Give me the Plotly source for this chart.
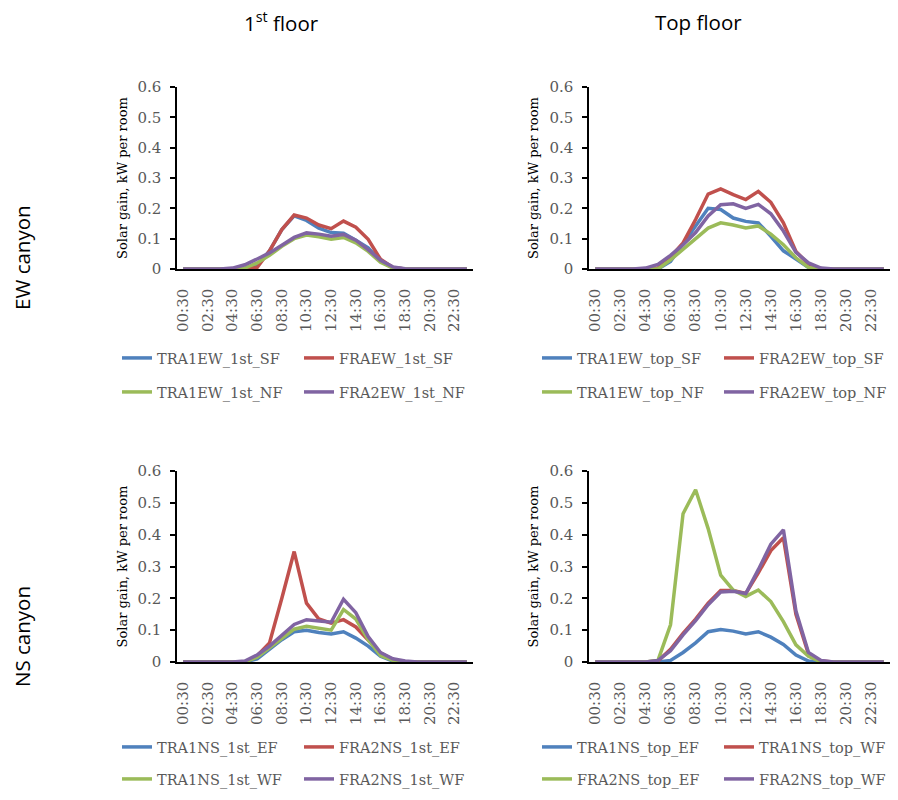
import plotly.graph_objects as go

hours = ["00:30", "01:30", "02:30", "03:30", "04:30", "05:30", "06:30", "07:30",
         "08:30", "09:30", "10:30", "11:30", "12:30", "13:30", "14:30", "15:30",
         "16:30", "17:30", "18:30", "19:30", "20:30", "21:30", "22:30", "23:30"]
tick_labels = ["00:30", "02:30", "04:30", "06:30", "08:30", "10:30",
               "12:30", "14:30", "16:30", "18:30", "20:30", "22:30"]

# EW canyon, 1st floor
ew1_names = ["TRA1EW_1st_SF", "FRAEW_1st_SF", "TRA1EW_1st_NF", "FRA2EW_1st_NF"]
ew1_a = [0, 0, 0, 0, 0, 0, 0.01, 0.06, 0.13, 0.175, 0.16, 0.135, 0.12, 0.118, 0.095, 0.07, 0.027, 0.004, 0, 0, 0, 0, 0, 0]
ew1_b = [0, 0, 0, 0, 0, 0, 0.005, 0.06, 0.13, 0.178, 0.168, 0.145, 0.133, 0.158, 0.138, 0.098, 0.032, 0.005, 0, 0, 0, 0, 0, 0]
ew1_c = [0, 0, 0, 0, 0, 0.003, 0.02, 0.045, 0.075, 0.1, 0.112, 0.106, 0.098, 0.104, 0.086, 0.058, 0.022, 0.003, 0, 0, 0, 0, 0, 0]
ew1_d = [0, 0, 0, 0, 0.003, 0.014, 0.033, 0.053, 0.078, 0.104, 0.119, 0.115, 0.108, 0.114, 0.095, 0.064, 0.029, 0.007, 0.001, 0, 0, 0, 0, 0]

# EW canyon, top floor
ewt_names = ["TRA1EW_top_SF", "FRA2EW_top_SF", "TRA1EW_top_NF", "FRA2EW_top_NF"]
ewt_a = [0, 0, 0, 0, 0, 0, 0.025, 0.085, 0.14, 0.2, 0.196, 0.168, 0.157, 0.152, 0.108, 0.06, 0.033, 0.005, 0, 0, 0, 0, 0, 0]
ewt_b = [0, 0, 0, 0, 0, 0.003, 0.04, 0.086, 0.163, 0.247, 0.264, 0.245, 0.229, 0.256, 0.22, 0.152, 0.058, 0.016, 0, 0, 0, 0, 0, 0]
ewt_c = [0, 0, 0, 0, 0, 0, 0.03, 0.065, 0.1, 0.135, 0.152, 0.145, 0.135, 0.142, 0.115, 0.08, 0.037, 0.005, 0, 0, 0, 0, 0, 0]
ewt_d = [0, 0, 0, 0, 0.003, 0.015, 0.045, 0.08, 0.12, 0.175, 0.212, 0.215, 0.2, 0.213, 0.182, 0.125, 0.055, 0.02, 0.003, 0, 0, 0, 0, 0]

# NS canyon, 1st floor
ns1_names = ["TRA1NS_1st_EF", "FRA2NS_1st_EF", "TRA1NS_1st_WF", "FRA2NS_1st_WF"]
ns1_a = [0, 0, 0, 0, 0, 0, 0.01, 0.04, 0.07, 0.095, 0.1, 0.093, 0.088, 0.095, 0.075, 0.05, 0.018, 0.003, 0, 0, 0, 0, 0, 0]
ns1_b = [0, 0, 0, 0, 0, 0, 0.02, 0.06, 0.2, 0.347, 0.185, 0.135, 0.122, 0.133, 0.11, 0.07, 0.028, 0.008, 0, 0, 0, 0, 0, 0]
ns1_c = [0, 0, 0, 0, 0, 0, 0.015, 0.045, 0.075, 0.103, 0.112, 0.105, 0.1, 0.165, 0.135, 0.07, 0.02, 0.005, 0, 0, 0, 0, 0, 0]
ns1_d = [0, 0, 0, 0, 0, 0.003, 0.022, 0.05, 0.085, 0.118, 0.133, 0.13, 0.125, 0.197, 0.155, 0.08, 0.03, 0.01, 0.003, 0, 0, 0, 0, 0]

# NS canyon, top floor
nst_names = ["TRA1NS_top_EF", "TRA1NS_top_WF", "FRA2NS_top_EF", "FRA2NS_top_WF"]
nst_a = [0, 0, 0, 0, 0, 0, 0.005, 0.03, 0.06, 0.095, 0.102, 0.097, 0.088, 0.095, 0.078, 0.055, 0.022, 0.003, 0, 0, 0, 0, 0, 0]
nst_b = [0, 0, 0, 0, 0, 0.003, 0.04, 0.09, 0.135, 0.185, 0.225, 0.225, 0.215, 0.28, 0.35, 0.39, 0.15, 0.025, 0.003, 0, 0, 0, 0, 0]
nst_c = [0, 0, 0, 0, 0, 0.005, 0.117, 0.466, 0.541, 0.419, 0.273, 0.226, 0.206, 0.226, 0.19, 0.127, 0.054, 0.018, 0, 0, 0, 0, 0, 0]
nst_d = [0, 0, 0, 0, 0, 0.005, 0.035, 0.085, 0.13, 0.18, 0.22, 0.222, 0.215, 0.29, 0.37, 0.415, 0.16, 0.03, 0.005, 0, 0, 0, 0, 0]

colors = ["#4F81BD", "#C0504D", "#9BBB59", "#8064A2"]

# figure sized so that it plus the page's 8px body margin fits the 898x800 window
OFF = 8
W, H = 898 - 2 * OFF, 800 - 2 * OFF
def px(x):
    return min(1.0, (x - OFF) / W)
def py(y):
    return 1 - (y - OFF) / H

SERIF = "DejaVu Serif"
SANS = "Open Sans"
GRAY = "#595959"

panels = [
    # names, series, axis suffix, x-range px, y-range px, legend base index, legend x px, legend rows y px, ytitle x px
    (ew1_names, [ew1_a, ew1_b, ew1_c, ew1_d], "", (177, 473), (87, 269), 1, 117, (358, 392), 122),
    (ewt_names, [ewt_a, ewt_b, ewt_c, ewt_d], "2", (589, 895), (87, 269), 3, 537, (358, 392), 533),
    (ns1_names, [ns1_a, ns1_b, ns1_c, ns1_d], "3", (177, 473), (471, 662), 5, 117, (747, 779), 122),
    (nst_names, [nst_a, nst_b, nst_c, nst_d], "4", (589, 895), (471, 662), 7, 537, (747, 779), 533),
]

fig = go.Figure()
layout = dict(
    width=W, height=H,
    margin=dict(l=0, r=0, t=0, b=0, autoexpand=False),
    paper_bgcolor="white", plot_bgcolor="white",
    showlegend=True,
    annotations=[],
)

for names, series, sfx, xr, yr, lbase, lx, lrows, ytx in panels:
    for k, (nm, vals) in enumerate(zip(names, series)):
        leg_idx = lbase + (k // 2)
        legname = "legend" if leg_idx == 1 else f"legend{leg_idx}"
        fig.add_trace(go.Scatter(
            x=hours, y=vals, name=nm, mode="lines",
            line=dict(color=colors[k], width=3.5),
            xaxis="x" + sfx, yaxis="y" + sfx, legend=legname,
        ))
    layout["xaxis" + sfx] = dict(
        domain=[px(xr[0]), px(xr[1])], anchor="y" + sfx,
        type="category", categoryorder="array", categoryarray=hours,
        range=[-0.5, 23.5], tickmode="array", tickvals=tick_labels, ticktext=tick_labels,
        tickangle=-90, showgrid=False, zeroline=False,
        showline=True, linecolor="black", linewidth=1.5,
        ticks="", ticklabelstandoff=12,
        tickfont=dict(family=SERIF, size=15, color=GRAY),
    )
    layout["yaxis" + sfx] = dict(
        domain=[py(yr[1]), py(yr[0])], anchor="x" + sfx,
        range=[0, 0.6], dtick=0.1, tick0=0, showgrid=False, zeroline=False,
        showline=True, linecolor="black", linewidth=1.5,
        ticks="outside", ticklen=5, tickcolor="black", tickwidth=1.5,
        ticklabelstandoff=6,
        tickfont=dict(family=SERIF, size=15, color=GRAY),
    )
    layout["annotations"].append(dict(
        text="Solar gain, kW per room", x=px(ytx), y=py((yr[0] + yr[1]) / 2),
        xref="paper", yref="paper", showarrow=False, textangle=-90,
        xanchor="center", yanchor="middle",
        font=dict(family=SERIF, size=13, color="black"),
    ))
    for r in range(2):
        idx = lbase + r
        key = "legend" if idx == 1 else f"legend{idx}"
        layout[key] = dict(
            orientation="h", x=px(lx), y=py(lrows[r]), xanchor="left", yanchor="middle",
            xref="paper", yref="paper",
            entrywidth=137, entrywidthmode="pixels",
            bgcolor="rgba(0,0,0,0)", borderwidth=0,
            font=dict(family=SERIF, size=14.5, color=GRAY),
        )

for txt, x, y, ang in [("1<sup>st</sup> floor", 281, 22, 0), ("Top floor", 698, 22, 0),
                       ("EW canyon", 22, 258, -90), ("NS canyon", 22, 637, -90)]:
    layout["annotations"].append(dict(
        text=txt, x=px(x), y=py(y), xref="paper", yref="paper", showarrow=False,
        textangle=ang, xanchor="center", yanchor="middle",
        font=dict(family=SANS, size=20.5, color="black"),
    ))

fig.update_layout(**layout)
fig.write_html("out.html")
